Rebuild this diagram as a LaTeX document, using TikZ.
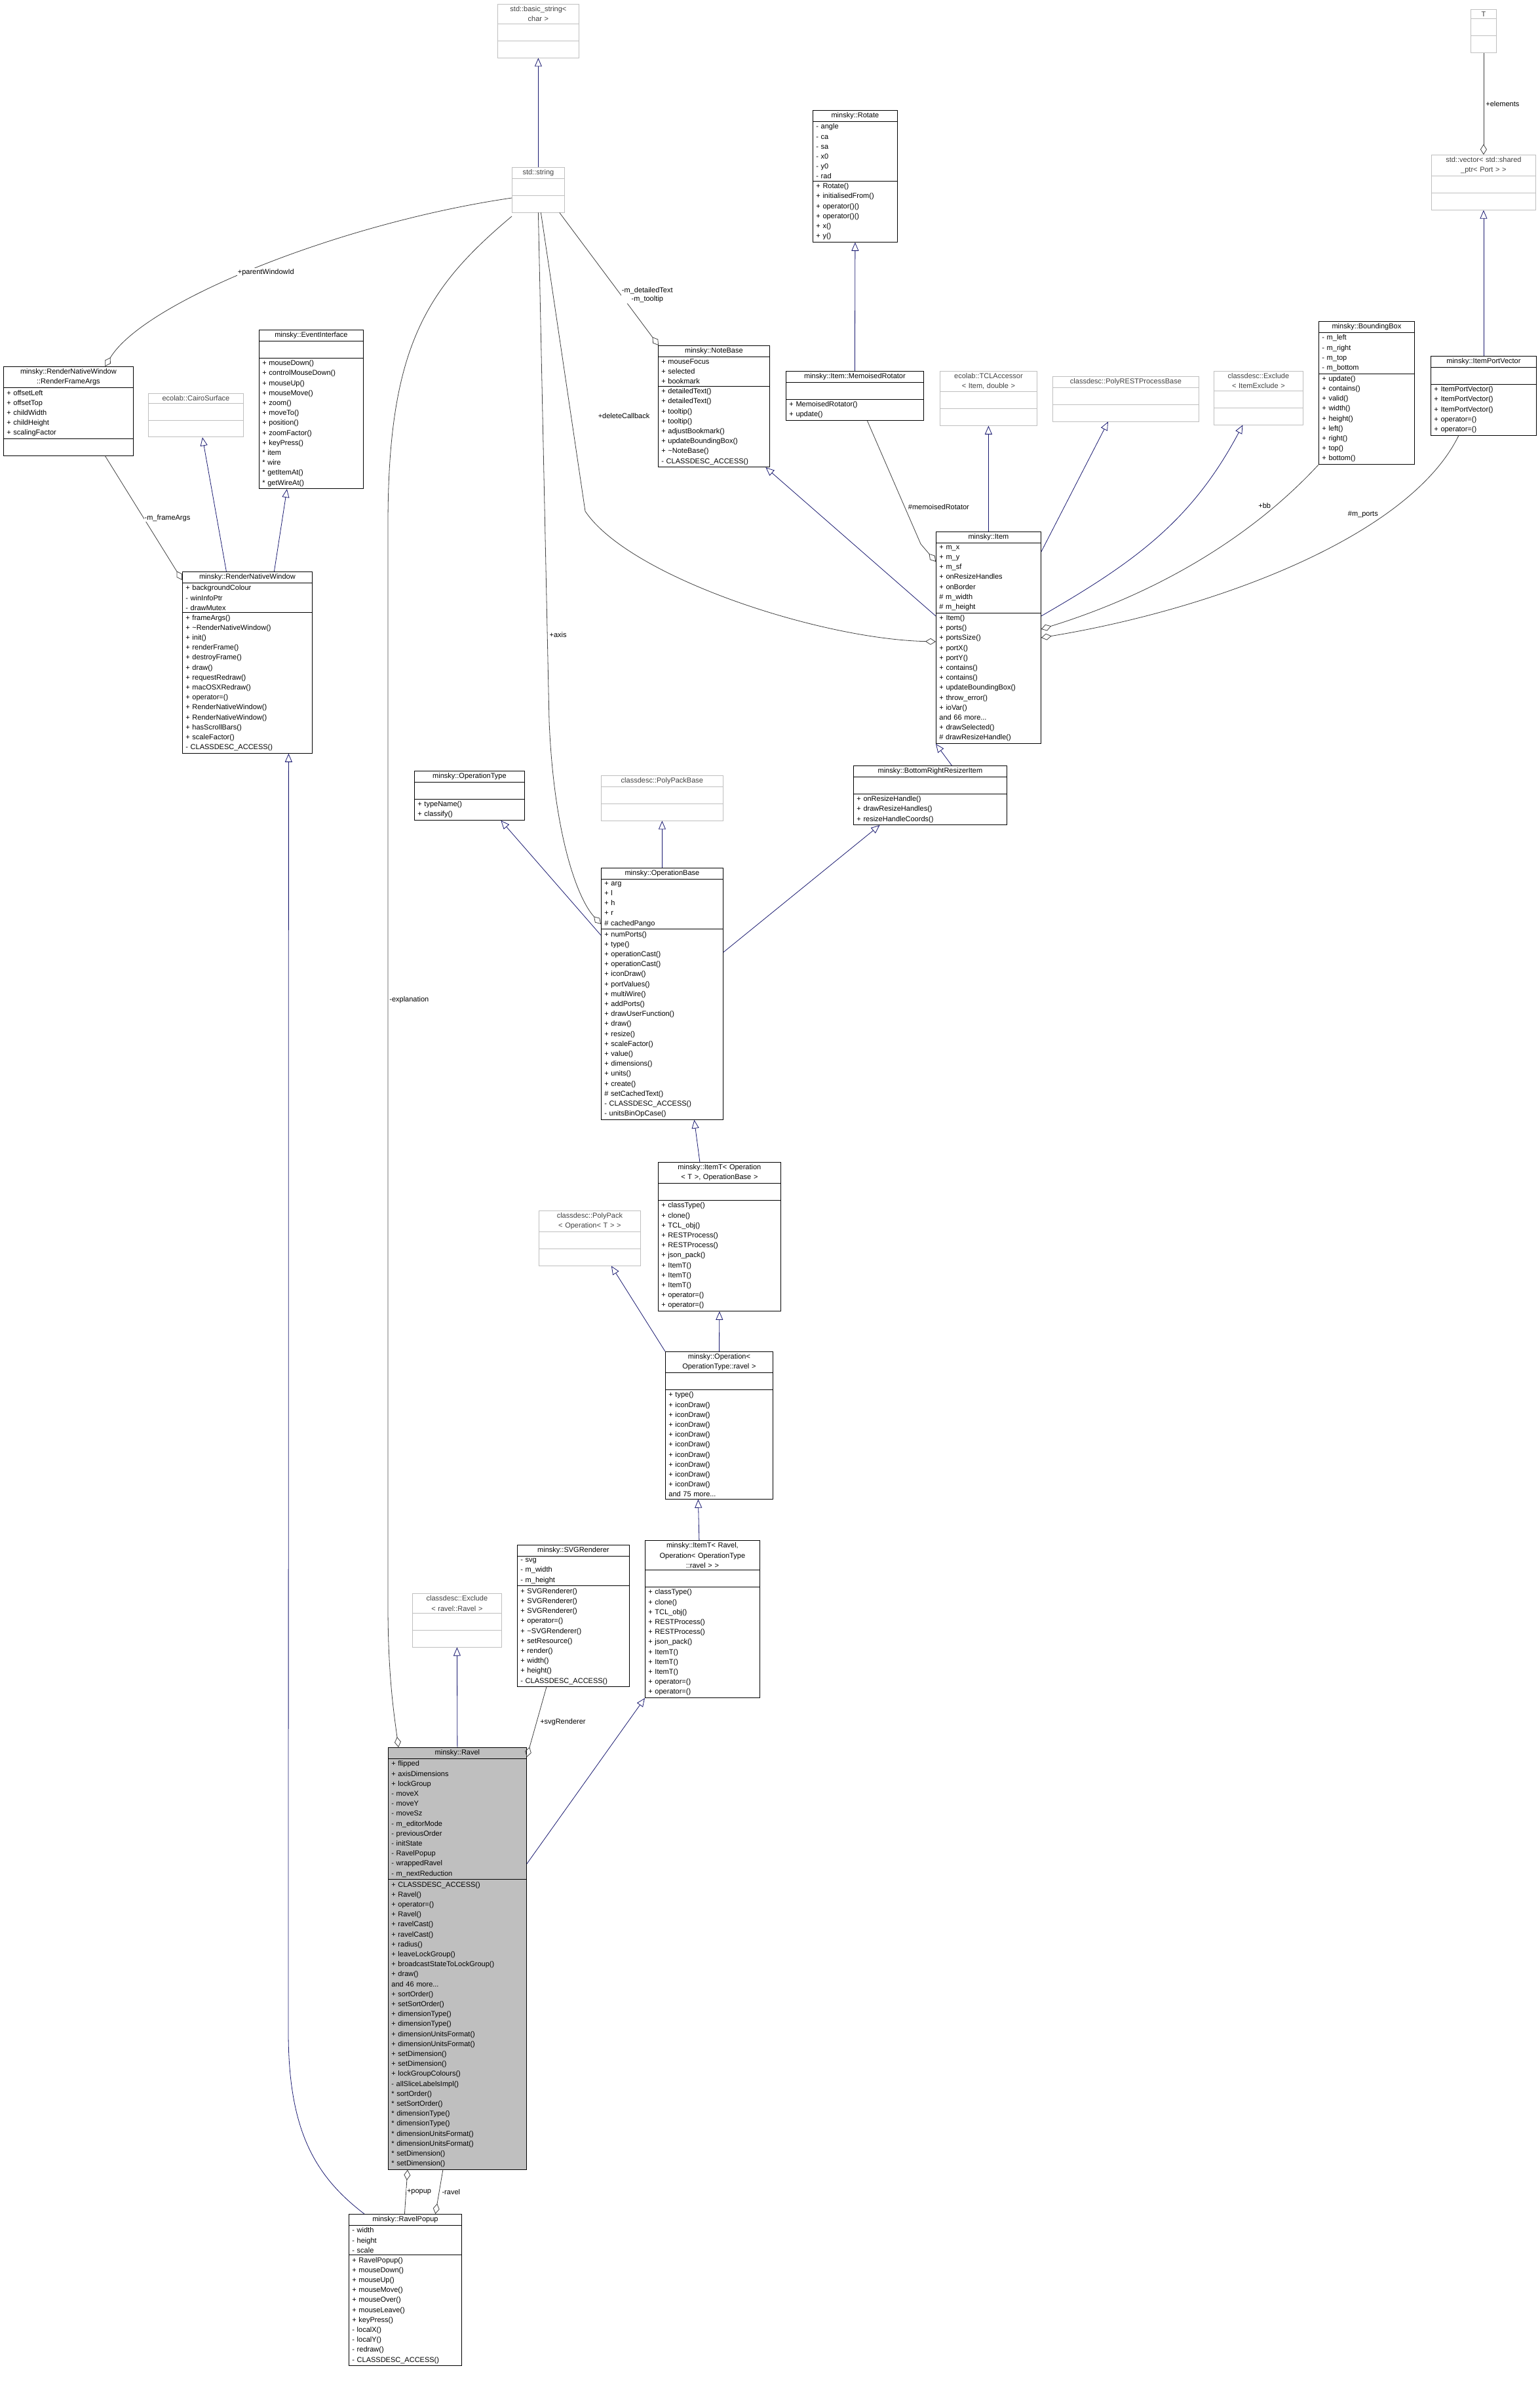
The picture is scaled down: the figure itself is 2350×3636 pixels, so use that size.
\documentclass[tikz,border=0pt]{standalone}
\usepackage{fontspec}
\setmainfont{Liberation Sans}
\usetikzlibrary{shapes.multipart, arrows.meta}
\definecolor{inhblue}{HTML}{191970}
\definecolor{compgray}{HTML}{404040}
\tikzstyle{cls} = [rectangle split, rectangle split parts=3, draw=black, thick, anchor=north west, align=left, inner xsep=5pt, inner ysep=3pt, font=\fontsize{11}{15.2}\selectfont]
\tikzstyle{ext} = [cls, draw=black!25, text=black!75]
\tikzstyle{inh} = [draw=inhblue, thick, -{Triangle[open,length=13pt,width=11pt]}]
\tikzstyle{comp} = [draw=compgray, thick, -{Diamond[open,length=16pt,width=10pt]}]
\tikzstyle{lbl} = [font=\fontsize{11}{13}\selectfont, align=center, fill=white, inner sep=1pt]
\newcommand{\ctitle}[1]{\parbox{\hsize}{\centering #1}}
\newcommand{\nopart}{\rule{0pt}{19pt}}

\begin{document}
\begin{tikzpicture}[x=1pt, y=-1pt]
\useasboundingbox (0,0) rectangle (2350,3636);

% top row
\node (basicstr) [ext, text width=114pt] at (759,6) {\ctitle{std::basic\_string<\\ char >}\nodepart{two}\nopart\nodepart{three}\nopart};
\node (string) [ext, text width=70pt] at (781,255) {\ctitle{std::string}\nodepart{two}\nopart\nodepart{three}\nopart};
\node (T) [ext, text width=29pt] at (2244,14) {\ctitle{T}\nodepart{two}\nopart\nodepart{three}\nopart};
\node (vec) [ext, text width=149pt] at (2184,236) {\ctitle{std::vector< std::shared\\ \_ptr< Port > >}\nodepart{two}\nopart\nodepart{three}\nopart};
\node (rotate) [cls, text width=119pt] at (1240,168) {\ctitle{minsky::Rotate}\nodepart{two}- angle\\- ca\\- sa\\- x0\\- y0\\- rad\nodepart{three}+~Rotate()\\+~initialisedFrom()\\+~operator()()\\+~operator()()\\+~x()\\+~y()};

% left part
\node (frameargs) [cls, text width=188pt] at (5,559) {\ctitle{minsky::RenderNativeWindow\\ ::RenderFrameArgs}\nodepart{two}+~offsetLeft\\+~offsetTop\\+~childWidth\\+~childHeight\\+~scalingFactor\nodepart{three}\nopart};
\node (cairo) [ext, text width=135pt] at (226,600) {\ctitle{ecolab::CairoSurface}\nodepart{two}\nopart\nodepart{three}\nopart};
\node (events) [cls, text width=149pt] at (395,503) {\ctitle{minsky::EventInterface}\nodepart{two}\nopart\nodepart{three}+~mouseDown()\\+~controlMouseDown()\\+~mouseUp()\\+~mouseMove()\\+~zoom()\\+~moveTo()\\+~position()\\+~zoomFactor()\\+~keyPress()\\{}*~item\\{}*~wire\\{}*~getItemAt()\\{}*~getWireAt()};
\node (window) [cls, text width=188pt] at (278,872) {\ctitle{minsky::RenderNativeWindow}\nodepart{two}+~backgroundColour\\-~winInfoPtr\\-~drawMutex\nodepart{three}+~frameArgs()\\+~\textasciitilde RenderNativeWindow()\\+~init()\\+~renderFrame()\\+~destroyFrame()\\+~draw()\\+~requestRedraw()\\+~macOSXRedraw()\\+~operator=()\\+~RenderNativeWindow()\\+~RenderNativeWindow()\\+~hasScrollBars()\\+~scaleFactor()\\-~CLASSDESC\_ACCESS()};

% item row
\node (notebase) [cls, text width=160pt] at (1004,527) {\ctitle{minsky::NoteBase}\nodepart{two}+~mouseFocus\\+~selected\\+~bookmark\nodepart{three}+~detailedText()\\+~detailedText()\\+~tooltip()\\+~tooltip()\\+~adjustBookmark()\\+~updateBoundingBox()\\+~\textasciitilde NoteBase()\\-~CLASSDESC\_ACCESS()};
\node (memorot) [cls, text width=200pt] at (1199,566) {\ctitle{minsky::Item::MemoisedRotator}\nodepart{two}\nopart\nodepart{three}+~MemoisedRotator()\\+~update()};
\node (tclacc) [ext, text width=138pt] at (1434,566) {\ctitle{ecolab::TCLAccessor\\ < Item, double >}\nodepart{two}\nopart\nodepart{three}\nopart};
\node (restbase) [ext, text width=213pt] at (1606,574) {\ctitle{classdesc::PolyRESTProcessBase}\nodepart{two}\nopart\nodepart{three}\nopart};
\node (exclitem) [ext, text width=126pt] at (1852,566) {\ctitle{classdesc::Exclude\\ < ItemExclude >}\nodepart{two}\nopart\nodepart{three}\nopart};
\node (bbox) [cls, text width=136pt] at (2012,490) {\ctitle{minsky::BoundingBox}\nodepart{two}-~m\_left\\-~m\_right\\-~m\_top\\-~m\_bottom\nodepart{three}+~update()\\+~contains()\\+~valid()\\+~width()\\+~height()\\+~left()\\+~right()\\+~top()\\+~bottom()};
\node (portvec) [cls, text width=151pt] at (2183,543) {\ctitle{minsky::ItemPortVector}\nodepart{two}\nopart\nodepart{three}+~ItemPortVector()\\+~ItemPortVector()\\+~ItemPortVector()\\+~operator=()\\+~operator=()};
\node (item) [cls, text width=150pt] at (1428,811) {\ctitle{minsky::Item}\nodepart{two}+~m\_x\\+~m\_y\\+~m\_sf\\+~onResizeHandles\\+~onBorder\\\#~m\_width\\\#~m\_height\nodepart{three}+~Item()\\+~ports()\\+~portsSize()\\+~portX()\\+~portY()\\+~contains()\\+~contains()\\+~updateBoundingBox()\\+~throw\_error()\\+~ioVar()\\and 66 more...\\+~drawSelected()\\\#~drawResizeHandle()};

% operation chain
\node (optype) [cls, text width=158pt] at (632,1176) {\ctitle{minsky::OperationType}\nodepart{two}\nopart\nodepart{three}+~typeName()\\+~classify()};
\node (packbase) [ext, text width=176pt] at (917,1183) {\ctitle{classdesc::PolyPackBase}\nodepart{two}\nopart\nodepart{three}\nopart};
\node (resizer) [cls, text width=224pt] at (1302,1168) {\ctitle{minsky::BottomRightResizerItem}\nodepart{two}\nopart\nodepart{three}+~onResizeHandle()\\+~drawResizeHandles()\\+~resizeHandleCoords()};
\node (opbase) [cls, text width=176pt] at (917,1324) {\ctitle{minsky::OperationBase}\nodepart{two}+~arg\\+~l\\+~h\\+~r\\\#~cachedPango\nodepart{three}+~numPorts()\\+~type()\\+~operationCast()\\+~operationCast()\\+~iconDraw()\\+~portValues()\\+~multiWire()\\+~addPorts()\\+~drawUserFunction()\\+~draw()\\+~resize()\\+~scaleFactor()\\+~value()\\+~dimensions()\\+~units()\\+~create()\\\#~setCachedText()\\-~CLASSDESC\_ACCESS()\\-~unitsBinOpCase()};
\node (itemtop) [cls, text width=177pt] at (1004,1773) {\ctitle{minsky::ItemT< Operation\\ < T >, OperationBase >}\nodepart{two}\nopart\nodepart{three}+~classType()\\+~clone()\\+~TCL\_obj()\\+~RESTProcess()\\+~RESTProcess()\\+~json\_pack()\\+~ItemT()\\+~ItemT()\\+~ItemT()\\+~operator=()\\+~operator=()};
\node (polypack) [ext, text width=145pt] at (822,1847) {\ctitle{classdesc::PolyPack\\ < Operation< T > >}\nodepart{two}\nopart\nodepart{three}\nopart};
\node (opravel) [cls, text width=154pt] at (1015,2062) {\ctitle{minsky::Operation<\\ OperationType::ravel >}\nodepart{two}\nopart\nodepart{three}+~type()\\+~iconDraw()\\+~iconDraw()\\+~iconDraw()\\+~iconDraw()\\+~iconDraw()\\+~iconDraw()\\+~iconDraw()\\+~iconDraw()\\+~iconDraw()\\and 75 more...};

% ravel
\node (svgrend) [cls, text width=161pt] at (789,2357) {\ctitle{minsky::SVGRenderer}\nodepart{two}-~svg\\-~m\_width\\-~m\_height\nodepart{three}+~SVGRenderer()\\+~SVGRenderer()\\+~SVGRenderer()\\+~operator=()\\+~\textasciitilde SVGRenderer()\\+~setResource()\\+~render()\\+~width()\\+~height()\\-~CLASSDESC\_ACCESS()};
\node (exclravel) [ext, text width=126pt] at (629,2431) {\ctitle{classdesc::Exclude\\ < ravel::Ravel >}\nodepart{two}\nopart\nodepart{three}\nopart};
\node (itemtravel) [cls, text width=165pt] at (984,2350) {\ctitle{minsky::ItemT< Ravel,\\ Operation< OperationType\\ ::ravel > >}\nodepart{two}\nopart\nodepart{three}+~classType()\\+~clone()\\+~TCL\_obj()\\+~RESTProcess()\\+~RESTProcess()\\+~json\_pack()\\+~ItemT()\\+~ItemT()\\+~ItemT()\\+~operator=()\\+~operator=()};
\node (ravel) [cls, fill=black!25, text width=201pt] at (592,2666) {\ctitle{minsky::Ravel}\nodepart{two}+~flipped\\+~axisDimensions\\+~lockGroup\\-~moveX\\-~moveY\\-~moveSz\\-~m\_editorMode\\-~previousOrder\\-~initState\\-~RavelPopup\\-~wrappedRavel\\-~m\_nextReduction\nodepart{three}+~CLASSDESC\_ACCESS()\\+~Ravel()\\+~operator=()\\+~Ravel()\\+~ravelCast()\\+~ravelCast()\\+~radius()\\+~leaveLockGroup()\\+~broadcastStateToLockGroup()\\+~draw()\\and 46 more...\\+~sortOrder()\\+~setSortOrder()\\+~dimensionType()\\+~dimensionType()\\+~dimensionUnitsFormat()\\+~dimensionUnitsFormat()\\+~setDimension()\\+~setDimension()\\+~lockGroupColours()\\-~allSliceLabelsImpl()\\{}*~sortOrder()\\{}*~setSortOrder()\\{}*~dimensionType()\\{}*~dimensionType()\\{}*~dimensionUnitsFormat()\\{}*~dimensionUnitsFormat()\\{}*~setDimension()\\{}*~setDimension()};
\node (popup) [cls, text width=162pt] at (532,3378) {\ctitle{minsky::RavelPopup}\nodepart{two}-~width\\-~height\\-~scale\nodepart{three}+~RavelPopup()\\+~mouseDown()\\+~mouseUp()\\+~mouseMove()\\+~mouseOver()\\+~mouseLeave()\\+~keyPress()\\-~localX()\\-~localY()\\-~redraw()\\-~CLASSDESC\_ACCESS()};

% inheritance
\draw [inh] (string.north) -- (basicstr.south);
\draw [inh] (portvec.north) -- (vec.south);
\draw [inh] (memorot.north) -- (rotate.south);
\draw [inh] (item.north) -- (tclacc.south);
\draw [inh] ([yshift=-31pt]item.north east) -- ([xshift=-27pt]restbase.south);
\draw [inh] ([yshift=-129pt]item.north east) to[out=30, in=-118] ([xshift=-24pt]exclitem.south);
\draw [inh] ([yshift=-129pt]item.north west) -- ([xshift=79pt]notebase.south);
\draw [inh] ([xshift=-32pt]window.north) -- ([xshift=10pt]cairo.south);
\draw [inh] ([xshift=41pt]window.north) -- ([xshift=-37pt]events.south);
\draw [inh] ([xshift=24pt]popup.north west) .. controls (480,3320) and (440,3250) .. (440,3100) -- ([xshift=63pt]window.south);
\draw [inh] ([yshift=-103pt]opbase.north west) -- ([xshift=48pt]optype.south);
\draw [inh] (opbase.north) -- (packbase.south);
\draw [inh] ([yshift=-129pt]opbase.north east) -- ([xshift=-77pt]resizer.south);
\draw [inh] ([xshift=33pt]resizer.north) -- ([yshift=-324pt]item.north west);
\draw [inh] ([xshift=-30pt]itemtop.north) -- ([xshift=49pt]opbase.south);
\draw [inh] (opravel.north) -- (itemtop.south);
\draw [inh] (opravel.north west) -- ([xshift=33pt]polypack.south);
\draw [inh] ([xshift=-5pt]itemtravel.north) -- ([xshift=-32pt]opravel.south);
\draw [inh] ([yshift=-178pt]ravel.north east) -- (itemtravel.south west);
\draw [inh] (ravel.north) -- (exclravel.south);

% members
\draw [comp] (T.south) -- node[lbl, right, xshift=2pt] {+elements} (vec.north);
\draw [comp] ([xshift=19pt]memorot.south) -- node[lbl, pos=0.7, right, xshift=4pt] {\#memoisedRotator} (1405,830) -- ([yshift=-46pt]item.north west);
\draw [comp] ([xshift=4pt]string.south) -- node[lbl, pos=0.68, right, xshift=40pt] {+deleteCallback} (893,780) .. controls (960,880) and (1250,975) .. ([yshift=-168pt]item.north west);
\draw [comp] ([xshift=-8pt]string.south east) -- node[lbl, pos=0.62, right] {-m\_detailedText\\-m\_tooltip} ([xshift=1pt]notebase.north west);
\draw [comp] ([yshift=-47pt]string.north west) .. controls (520,340) and (220,460) .. node[lbl, pos=0.55, above right] {+parentWindowId} ([xshift=56pt]frameargs.north);
\draw [comp] ([yshift=-75pt]string.north west) .. controls (650,440) and (592,530) .. (592,800) -- node[lbl, pos=0.44, right, xshift=1pt] {-explanation} (592,2450) .. controls (592,2560) and (602,2620) .. ([xshift=16pt]ravel.north west);
\draw [comp] (string.south) -- node[lbl, pos=0.83, right, xshift=2pt] {+axis} (838,1100) .. controls (845,1270) and (880,1370) .. ([yshift=-86pt]opbase.north west);
\draw [comp] ([xshift=56pt]frameargs.south) -- node[lbl, right] {-m\_frameArgs} ([yshift=-13pt]window.north west);
\draw [comp] (bbox.south west) .. controls (1900,830) and (1750,910) .. node[lbl, pos=0.2, above left] {+bb} ([yshift=-149pt]item.north east);
\draw [comp] ([xshift=-38pt]portvec.south) .. controls (2150,820) and (1850,930) .. node[lbl, pos=0.3, above left] {\#m\_ports} ([yshift=-162pt]item.north east);
\draw [comp] ([xshift=-41pt]svgrend.south) -- node[lbl, right, xshift=4pt] {+svgRenderer} ([yshift=-15pt]ravel.north east);
\draw [comp] ([xshift=-1pt]popup.north) -- node[lbl, right] {+popup} ([xshift=-76pt]ravel.south);
\draw [comp] ([xshift=-22pt]ravel.south) -- node[lbl, right, xshift=3pt] {-ravel} ([xshift=46pt]popup.north);

\end{tikzpicture}
\end{document}
